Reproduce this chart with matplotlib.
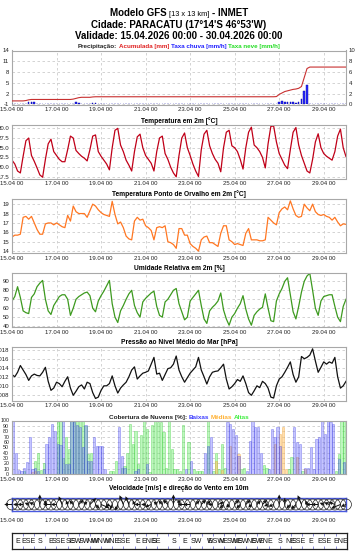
import numpy as np
import pandas as pd
import matplotlib
matplotlib.use('Agg')
import matplotlib.pyplot as plt
import matplotlib.dates as mdates
from matplotlib.ticker import FormatStrFormatter

plt.rcParams['font.family'] = ['Liberation Sans', 'DejaVu Sans']

# 3-hourly GFS output, 15.04.2026 00 -> 30.04.2026 00
times = pd.date_range('2026-04-15 00:00', periods=121, freq='3h')

temp = [21.8, 20.8, 19.0, 18.5, 22.8, 26.8, 27.5, 23.0,
        21.5, 19.8, 18.0, 17.4, 22.0, 26.0, 27.2, 24.0,
        23.0, 22.0, 21.4, 21.4, 24.5, 28.0, 27.5, 24.3,
        23.5, 22.8, 22.3, 21.6, 24.5, 28.0, 28.3, 24.0,
        22.8, 21.8, 20.8, 19.3, 25.0, 29.5, 30.0, 25.7,
        24.0, 21.8, 20.5, 19.0, 24.0, 27.8, 28.5, 25.0,
        23.0, 22.0, 21.0, 19.0, 24.0, 27.5, 28.0, 23.5,
        22.0, 20.0, 18.5, 17.5, 23.0, 27.5, 28.8, 25.0,
        23.0, 20.8, 19.0, 17.6, 24.5, 28.5, 29.5, 25.5,
        23.5, 22.0, 21.0, 18.8, 25.0, 29.0, 29.5, 25.5,
        25.0, 24.0, 22.0, 19.5, 25.0, 29.0, 30.3, 25.7,
        25.0, 24.0, 22.5, 19.8, 26.0, 30.5, 30.6, 26.5,
        23.5, 22.0, 20.5, 19.6, 24.5, 29.0, 30.2, 25.7,
        23.0, 21.0, 19.0, 18.5, 22.0, 26.5, 28.6, 25.0,
        23.5, 22.8, 22.3, 21.8, 24.0, 28.0, 29.8, 25.0,
        22.7]

dewpoint = [15.5, 15.7, 15.7, 15.8, 17.6, 17.7, 17.4, 17.7,
            17.0, 16.3, 15.8, 15.8, 16.9, 17.0, 17.0, 16.8,
            17.0, 16.8, 16.6, 16.5, 17.8, 17.2, 18.8, 18.2,
            18.0, 18.0, 18.0, 17.6, 18.3, 19.0, 18.8, 18.4,
            18.1, 17.9, 17.8, 17.7, 19.3, 17.9, 16.9, 17.1,
            16.5, 15.6, 15.3, 15.2, 17.2, 17.6, 17.3, 17.4,
            16.7, 16.5, 16.2, 15.2, 16.5, 16.6, 16.5, 16.7,
            15.0, 14.9, 14.7, 14.3, 16.4, 16.4, 15.7, 15.7,
            14.8, 14.5, 14.3, 14.0, 15.2, 15.5, 15.6, 14.9,
            14.9, 14.7, 14.5, 15.9, 16.7, 16.7, 15.2, 15.0,
            14.7, 14.8, 14.7, 14.6, 15.9, 16.4, 15.2, 15.2,
            15.2, 15.1, 15.1, 15.2, 17.6, 17.3, 17.0, 16.8,
            18.1, 18.5, 18.7, 18.4, 19.35, 18.5, 17.8, 17.6,
            17.7, 19.0, 18.6, 18.3, 19.0, 18.2, 17.9, 17.8,
            17.9, 17.7, 17.6, 17.3, 17.6, 17.1, 16.7, 16.9,
            16.85]

rh = [68, 73, 84, 72, 57, 55, 54, 72,
      76, 84, 88, 91, 70, 57, 53, 63,
      68, 73, 75, 75, 70, 52, 60, 70,
      73, 75, 77, 78, 74, 60, 56, 68,
      74, 79, 85, 91, 65, 50, 44, 57,
      63, 70, 76, 80, 63, 55, 50, 67,
      71, 74, 77, 79, 62, 52, 50, 67,
      70, 75, 80, 82, 65, 56, 47, 50,
      68, 72, 76, 80, 63, 48, 43, 57,
      61, 64, 68, 77, 58, 48, 41, 50,
      54, 60, 65, 74, 59, 48, 41, 52,
      56, 59, 61, 76, 60, 46, 45, 68,
      76, 82, 90, 94, 75, 56, 48, 62,
      78, 90, 96, 99, 80, 60, 52, 68,
      73, 74, 75, 75, 62, 50, 45, 62,
      70]

pressure = [1012.5, 1012.0, 1013.0, 1014.5, 1013.5, 1012.5, 1011.2, 1012.2,
            1012.6, 1012.3, 1012.2, 1013.0, 1014.1, 1011.0, 1009.0, 1009.5,
            1010.8, 1010.5, 1009.8, 1011.0, 1012.0, 1009.5, 1007.9, 1008.8,
            1009.8, 1010.2, 1009.3, 1010.8, 1010.5, 1008.5, 1007.2, 1007.5,
            1009.0, 1010.0, 1010.0, 1010.5, 1012.2, 1010.0, 1008.4, 1009.5,
            1010.2, 1010.8, 1012.0, 1013.5, 1014.2, 1011.5, 1012.2, 1012.8,
            1013.0, 1013.3, 1014.8, 1016.3, 1012.6, 1012.8, 1011.2, 1012.5,
            1013.8, 1014.0, 1014.8, 1016.6, 1013.5, 1012.0, 1010.8, 1011.8,
            1012.8, 1013.5, 1014.2, 1016.3, 1013.5, 1012.0, 1010.4, 1012.0,
            1013.0, 1013.2, 1013.3, 1014.0, 1014.8, 1011.5, 1009.3, 1009.8,
            1010.5, 1011.4, 1011.0, 1012.2, 1010.5, 1008.5, 1007.9, 1008.9,
            1010.0, 1009.6, 1011.0, 1010.5, 1009.5, 1007.5, 1007.3, 1010.0,
            1011.5, 1012.0, 1013.0, 1014.1, 1015.3, 1012.5, 1010.8, 1012.0,
            1016.5, 1016.0, 1016.3, 1016.8, 1018.2, 1015.5, 1013.0, 1014.1,
            1015.3, 1014.8, 1015.3, 1015.0, 1016.3, 1012.0, 1009.5, 1010.0,
            1011.0]

# precipitation: accumulated [mm] and rain rate [mm/h]
precip_acc = [0.0, 0.0, 0.0, 0.0, 0.0, 0.1, 0.3, 0.4, 0.4, 0.4,
              0.4, 0.4, 0.4, 0.4, 0.4, 0.4, 0.4, 0.4, 0.4, 0.4,
              0.4, 0.4, 0.5, 0.7, 0.9, 1.0, 1.0, 1.0, 1.0, 1.1,
              1.15, 1.15, 1.15, 1.15, 1.15, 1.15, 1.15, 1.15, 1.15, 1.15,
              1.15, 1.15, 1.15, 1.15, 1.15, 1.15, 1.15, 1.15, 1.15, 1.15,
              1.15, 1.15, 1.15, 1.15, 1.15, 1.15, 1.15, 1.15, 1.15, 1.15,
              1.15, 1.15, 1.15, 1.15, 1.15, 1.15, 1.15, 1.15, 1.15, 1.15,
              1.15, 1.15, 1.15, 1.15, 1.15, 1.15, 1.15, 1.15, 1.15, 1.15,
              1.15, 1.15, 1.15, 1.15, 1.15, 1.15, 1.15, 1.15, 1.15, 1.15,
              1.15, 1.15, 1.15, 1.15, 1.15, 1.2, 1.8, 2.2, 2.6, 2.8,
              3.0, 3.2, 3.3, 3.5, 4.0, 6.5, 9.0, 9.4, 9.4, 9.4,
              9.4, 9.4, 9.4, 9.4, 9.4, 9.4, 9.4, 9.4, 9.4, 9.4,
              9.4]

rain_rate = [0, 0, 0, 0, 0, 0, 0.4, 0.5, 0.4, 0,
             0, 0, 0, 0, 0, 0, 0, 0, 0, 0,
             0, 0, 0, 0.4, 0.3, 0, 0, 0, 0, 0.3,
             0.2, 0, 0, 0, 0, 0, 0, 0, 0, 0,
             0, 0, 0, 0, 0, 0, 0, 0, 0, 0,
             0, 0, 0, 0, 0, 0, 0, 0, 0, 0,
             0, 0, 0, 0, 0, 0, 0, 0, 0, 0,
             0, 0, 0, 0, 0, 0, 0, 0, 0, 0,
             0, 0, 0, 0, 0, 0, 0, 0, 0, 0,
             0, 0, 0, 0, 0, 0, 0.5, 0.6, 0.5, 0.4,
             0.4, 0.4, 0.3, 0.4, 1.0, 2.5, 3.7, 0, 0, 0,
             0, 0, 0, 0, 0, 0, 0, 0, 0, 0,
             0]

# cloud cover [%] per 3h interval
cloud_low = [100, 39, 8, 6, 12, 22, 70, 9, 12, 5,
             0, 9, 56, 69, 94, 81, 56, 55, 100, 19,
             18, 100, 97, 91, 88, 50, 91, 25, 25, 69,
             53, 53, 53, 9, 0, 0, 0, 0, 88, 34,
             12, 0, 0, 0, 5, 9, 0, 0, 18, 0,
             0, 0, 0, 0, 0, 0, 0, 0, 0, 0,
             0, 0, 9, 0, 25, 0, 0, 0, 0, 40,
             53, 69, 0, 0, 0, 0, 0, 97, 94, 84,
             72, 34, 0, 0, 6, 62, 100, 88, 88, 40,
             0, 0, 9, 84, 69, 88, 53, 0, 0, 0,
             0, 88, 59, 56, 0, 12, 12, 50, 9, 66,
             69, 100, 75, 100, 97, 94, 0, 28, 0, 22]

cloud_mid = [0, 0, 0, 0, 0, 0, 0, 4, 5, 0,
             0, 0, 0, 0, 0, 0, 0, 0, 0, 0,
             0, 0, 0, 0, 0, 0, 0, 0, 0, 0,
             0, 0, 0, 0, 0, 0, 0, 0, 0, 0,
             0, 0, 0, 0, 0, 0, 0, 0, 0, 0,
             0, 0, 0, 0, 0, 0, 0, 0, 0, 0,
             0, 0, 0, 0, 0, 0, 0, 0, 0, 0,
             0, 0, 0, 25, 0, 8, 0, 0, 53, 0,
             0, 37, 0, 0, 0, 0, 0, 0, 0, 0,
             0, 0, 0, 0, 56, 0, 75, 88, 9, 0,
             0, 0, 31, 0, 0, 9, 0, 0, 0, 0,
             0, 0, 0, 0, 0, 0, 0, 0, 0, 0]

cloud_high = [0, 0, 0, 0, 5, 0, 0, 0, 25, 40,
              8, 20, 0, 0, 0, 0, 97, 100, 30, 69,
              47, 100, 100, 100, 100, 100, 90, 37, 40, 0,
              0, 0, 0, 0, 0, 6, 6, 25, 0, 12,
              15, 40, 94, 56, 81, 19, 72, 100, 84, 3,
              91, 100, 97, 97, 78, 12, 100, 47, 9, 9,
              6, 91, 0, 59, 0, 9, 6, 6, 6, 0,
              100, 0, 6, 40, 9, 56, 12, 0, 0, 0,
              0, 0, 9, 12, 0, 0, 0, 0, 0, 0,
              16, 12, 0, 0, 0, 0, 0, 0, 0, 9,
              31, 0, 0, 0, 6, 0, 0, 0, 0, 0,
              0, 0, 0, 0, 0, 0, 6, 37, 100, 100]

# wind: direction labels (where the direction changes) and 6-hourly speed [m/s]
dir_idx = [2, 6, 10, 14, 17, 21, 23, 26, 29, 32, 36, 40, 45, 49, 52, 58, 62, 66,
           71, 73, 76, 79, 81, 83, 86, 88, 91, 96, 100, 103, 107, 112, 118]
dir_labels = ['E', 'ESE', 'S', 'E', 'SSE', 'SE', 'SW', 'SW', 'NW', 'WNW', 'NNE', 'SSE',
              'E', 'ENE', 'SE', 'S', 'E', 'SW', 'E', 'WSW', 'NE', 'SW', 'NE', 'SW',
              'NE', 'SW', 'ENE', 'S', 'NE', 'SSE', 'E', 'ESE', 'ENE']
wind_speed = [3.5, 2.0, 2.5, 2.0, 2.5, 4.5, 2.0, 3.5, 2.5, 4.0,
              2.0, 2.5, 3.0, 2.0, 4.0, 2.5, 4.0, 2.0, 2.5, 3.0,
              4.5, 4.0, 2.0, 2.5, 2.0, 3.0, 2.0, 2.5, 3.0, 4.5,
              2.5, 3.0, 3.0, 2.5, 3.0, 2.5, 2.0, 3.0, 2.5, 2.0,
              3.0, 2.5, 3.0, 2.0, 2.5, 3.0, 2.0, 2.5, 4.5, 3.0,
              2.5, 3.0, 4.5, 2.0, 3.0, 3.0, 2.0, 2.5, 3.0, 4.5,
              2.5]

compass = ['N', 'NNE', 'NE', 'ENE', 'E', 'ESE', 'SE', 'SSE',
           'S', 'SSW', 'SW', 'WSW', 'W', 'WNW', 'NW', 'NNW']

W, H = 363, 557
fig = plt.figure(figsize=(W / 100, H / 100), dpi=100)
tnum = mdates.date2num(times)


def add_ax(x0, top, x1, bottom):
    return fig.add_axes([x0 / W, 1 - bottom / H, (x1 - x0) / W, (bottom - top) / H])


def style_ax(ax, yticks, ylim, fmt='%g'):
    ax.set_xlim(tnum[0], tnum[-1])
    ax.set_ylim(*ylim)
    ax.set_yticks(yticks)
    ax.yaxis.set_major_formatter(FormatStrFormatter(fmt))
    ax.xaxis.set_major_locator(mdates.DayLocator(bymonthday=range(1, 32, 2)))
    ax.xaxis.set_major_formatter(mdates.DateFormatter('%d.%m %H'))
    ax.grid(True, color='#cccccc', lw=0.6, ls=(0, (3, 3)))
    ax.set_axisbelow(True)
    ax.tick_params(length=0, labelsize=4.3, pad=2, labelcolor='#222222')
    for sp in ax.spines.values():
        sp.set_color('#a8a8a8')
        sp.set_linewidth(0.8)


def rich_text(xc, ybase, parts, gap):
    r = fig.canvas.get_renderer()
    arts = [fig.text(0, 1 - ybase / H, s, color=c, fontsize=fs, fontweight=fw, va='baseline')
            for s, c, fs, fw in parts]
    ws = [a.get_window_extent(r).width for a in arts]
    x = xc - (sum(ws) + gap * (len(ws) - 1)) / 2
    for a, w in zip(arts, ws):
        a.set_x(x / W)
        x += w + gap


def panel_title(ax, s, pad=1.8):
    ax.set_title(s, fontsize=4.8, fontweight='bold', pad=pad)


# main title
rich_text(179, 16, [('Modelo GFS', 'black', 7, 'bold'), ('[13 x 13 km]', 'black', 5.3, 'normal'),
                    ('- INMET', 'black', 7, 'bold')], 2.7)
fig.text(179 / W, 1 - 27.5 / H, "Cidade: PARACATU (17°14'S 46°53'W)", ha='center',
         va='baseline', fontsize=7, fontweight='bold')
fig.text(179 / W, 1 - 38.8 / H, 'Validade: 15.04.2026 00:00 - 30.04.2026 00:00', ha='center',
         va='baseline', fontsize=7, fontweight='bold')

# precipitation
ax = add_ax(12, 50.5, 346, 104.5)
style_ax(ax, [-1, 2, 5, 8, 11, 14], (-1, 14))
ax.plot(tnum, precip_acc, color='#c83030', lw=0.8, zorder=3)
ax2 = ax.twinx()
ax2.set_ylim(0, 10)
ax2.set_yticks(range(0, 11, 2))
ax2.tick_params(length=0, labelsize=4.3, pad=2, labelcolor='#222222')
for sp in ax2.spines.values():
    sp.set_visible(False)
ax2.bar(tnum, rain_rate, width=0.07, color='#2a2aff', edgecolor='#0000a0', lw=0.3)
rich_text(179, 47.8, [('Precipitação:', '#222222', 4.5, 'bold'),
                      ('Acumulada [mm]', '#e02020', 4.5, 'bold'),
                      ('Taxa chuva [mm/h]', '#2020ff', 4.5, 'bold'),
                      ('Taxa neve [mm/h]', '#22dd22', 4.5, 'bold')], 1.6)

# temperature
ax = add_ax(12, 125, 346, 178.5)
style_ax(ax, [17.5, 20.0, 22.5, 25.0, 27.5, 30.0], (17.07, 30.86), '%.1f')
ax.plot(tnum, temp, color='#c00018', lw=0.9)
panel_title(ax, 'Temperatura em 2m [°C]')

# dew point
ax = add_ax(12, 199, 346, 253)
style_ax(ax, range(14, 20), (13.8, 19.55))
ax.plot(tnum, dewpoint, color='#ff7722', lw=0.9)
panel_title(ax, 'Temperatura Ponto de Orvalho em 2m [°C]')

# relative humidity
ax = add_ax(12, 273, 346, 327)
style_ax(ax, range(40, 100, 10), (39, 99.3))
ax.plot(tnum, rh, color='#3d9a1f', lw=0.9)
panel_title(ax, 'Umidade Relativa em 2m [%]')

# pressure
ax = add_ax(12, 347, 346, 400.5)
style_ax(ax, range(1008, 1020, 2), (1006.75, 1018.6))
ax.plot(tnum, pressure, color='#111111', lw=0.9)
panel_title(ax, 'Pressão ao Nível Médio do Mar [hPa]')

# cloud cover
ax = add_ax(12, 420.5, 346, 474)
style_ax(ax, range(0, 101, 10), (0, 100))
ax.tick_params(axis='y', labelsize=3.8)
bx = tnum[:-1]
ax.bar(bx, cloud_high, width=0.1, align='edge', color='#70ee70', alpha=0.45,
       edgecolor='#30cc30', lw=0.5)
ax.bar(bx, cloud_mid, width=0.1, align='edge', color='#ffc060', alpha=0.5,
       edgecolor='#f0a030', lw=0.5)
ax.bar(bx, cloud_low, width=0.1, align='edge', color='#7070ff', alpha=0.4,
       edgecolor='#2a2ae0', lw=0.5)
rich_text(179, 419, [('Cobertura de Nuvens [%]:', '#222222', 4.6, 'bold'),
                     ('Baixas', '#3c3cff', 4.6, 'bold'),
                     ('Médias', '#ffb030', 4.6, 'bold'),
                     ('Altas', '#40ee40', 4.6, 'bold')], 1.6)

# wind
dirs = []
cur = dir_labels[0]
k = 0
for i in range(len(times)):
    while k < len(dir_idx) and dir_idx[k] <= i:
        cur = dir_labels[k]
        k += 1
    dirs.append(cur)
deg = np.array([compass.index(d) * 22.5 for d in dirs[::2]])
spd = np.array(wind_speed)
u = -np.sin(np.radians(deg)) * spd
v = -np.cos(np.radians(deg)) * spd
wx = tnum[::2]

ax = add_ax(12, 498, 346, 511)
ax.set_xlim(tnum[0], tnum[-1])
ax.set_ylim(-1, 1)
ax.set_yticks([])
ax.xaxis.set_major_locator(mdates.DayLocator(bymonthday=range(1, 32, 2)))
ax.xaxis.set_major_formatter(mdates.DateFormatter('%d.%m %H'))
ax.tick_params(length=0, labelsize=4.3, pad=5, labelcolor='#222222')
for sp in ax.spines.values():
    sp.set_color('#4a5ae0')
    sp.set_linewidth(1.0)
ax.scatter(wx, np.zeros(len(wx)), s=62, facecolors='none', edgecolors='#222222',
           linewidths=0.5, clip_on=False, zorder=3)
q = ax.quiver(wx, np.zeros(len(wx)), u, v, angles='uv', scale_units='inches', scale=45,
              width=0.003, headwidth=4, headlength=4, headaxislength=3.5, pivot='tail',
              color='#111111', zorder=4)
q.set_clip_on(False)
panel_title(ax, 'Velocidade [m/s] e direção do Vento em 10m', pad=6)

# direction labels
ax = add_ax(11.7, 533, 346.7, 549)
ax.set_xlim(tnum[0], tnum[-1])
ax.set_ylim(0, 1)
ax.set_yticks([])
ax.set_xticks(tnum[::4])
ax.tick_params(axis='x', direction='in', length=2, width=0.5, color='#6060d0',
               top=True, bottom=True, labelbottom=False)
for sp in ax.spines.values():
    sp.set_color('#222222')
    sp.set_linewidth(0.9)
for i, lab in zip(dir_idx, dir_labels):
    ax.text(tnum[i], 0.45, lab, ha='center', va='center', fontsize=5.0, color='#111111')

fig.savefig('out.png', dpi=100)
